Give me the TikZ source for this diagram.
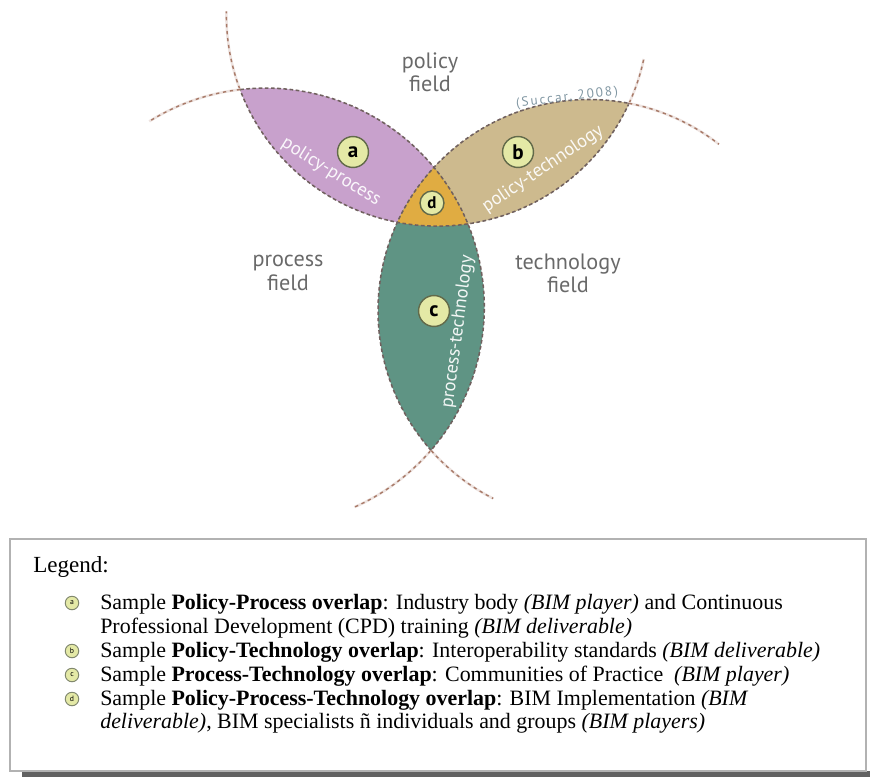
\documentclass[tikz,border=0pt]{standalone}
\usepackage{fontspec}
\setmainfont{PT Sans}
\newfontfamily\legfont{Liberation Serif}
\usetikzlibrary{positioning}
\definecolor{lilac}{RGB}{200,161,204}
\definecolor{sand}{RGB}{205,186,142}
\definecolor{sage}{RGB}{95,148,132}
\definecolor{amber}{RGB}{224,172,66}
\definecolor{edge}{RGB}{112,96,94}
\definecolor{rim}{RGB}{168,122,104}
\definecolor{pale}{RGB}{228,233,166}
\definecolor{ring}{RGB}{98,106,74}
\definecolor{inkgray}{RGB}{105,105,105}
\definecolor{cite}{RGB}{128,150,162}

\tikzset{
  lens/.style={draw=edge,line width=1.1pt,dash pattern=on 2.6pt off 1.8pt},
  rimarc/.style={draw=rim,line width=1pt,dash pattern=on 2.4pt off 2.6pt},
  glow/.style={draw=rim!20,line width=1.8pt},
  tag/.style={circle,fill=pale,draw=ring,line width=1pt,minimum size=22pt,inner sep=0pt,
    font=\fontsize{15}{15}\selectfont\bfseries},
  fieldlbl/.style={text=inkgray,align=center,font=\fontsize{15.8}{16.5}\selectfont},
  lenslbl/.style={text=white,text opacity=.92,font=\fontsize{13.2}{13.2}\selectfont},
  dot/.style={circle,fill=pale,draw=ring!80,line width=.7pt,minimum size=9.6pt,inner sep=0pt,
    font=\fontsize{5.5}{5.5}\selectfont},
  legtxt/.style={anchor=base west,inner sep=0pt,font=\legfont\fontsize{15.6}{17}\selectfont},
}

\begin{document}
\begin{tikzpicture}[x=.025cm,y=-.025cm]
  \useasboundingbox (0,0) rectangle (870,778);
  % the three fields
  \coordinate (pol) at (437.4,15.1);
  \coordinate (pro) at (265.3,307.1);
  \coordinate (tec) at (589,310.5);

  % soft shadow under the overlaps
  \foreach \s in {1,...,7} {
    \begin{scope}[shift={(\s*1.1,\s*1.5)}]
      \begin{scope}
        \clip (pol) circle[radius=211];
        \fill[black,opacity=.04] (pro) circle[radius=219] (tec) circle[radius=211];
      \end{scope}
      \begin{scope}
        \clip (pro) circle[radius=219];
        \fill[black,opacity=.04] (tec) circle[radius=211];
      \end{scope}
    \end{scope}}

  % overlaps
  \begin{scope}
    \clip (pol) circle[radius=211];
    \fill[lilac] (pro) circle[radius=219];
    \fill[sand] (tec) circle[radius=211];
  \end{scope}
  \begin{scope}
    \clip (pro) circle[radius=219];
    \fill[sage] (tec) circle[radius=211];
    \clip (pol) circle[radius=211];
    \fill[amber] (tec) circle[radius=211];
  \end{scope}

  % field borders
  \draw[lens] (pol) ++(24.6:211) arc[start angle=24.6,end angle=159.5,radius=211];
  \draw[lens] (pro) ++(-96.6:219) arc[start angle=-96.6,end angle=41,radius=219];
  \draw[lens] (tec) ++(138.4:211) arc[start angle=138.4,end angle=280.9,radius=211];
  \foreach \c/\r/\a/\b in {pol/211/159.5/181,pol/211/24.6/12,pro/219/-96.6/-122,
      pro/219/41/66,tec/211/280.9/308,tec/211/138.4/117} {
    \draw[glow] (\c) ++(\a:\r) arc[start angle=\a,end angle=\b,radius=\r];
    \draw[rimarc] (\c) ++(\a:\r) arc[start angle=\a,end angle=\b,radius=\r];
  }

  % labels
  \node[fieldlbl] (fpol) at (430,72) {policy\\field};
  \node[fieldlbl] (fpro) at (288,273) {process\\field};
  \node[fieldlbl] (ftec) at (568,273) {technology\\field};
  \node[text=cite,rotate=7,font=\fontsize{9.4}{10}\selectfont\addfontfeature{LetterSpace=15}]
    (src) at (567,98) {(Succar, 2008)};
  \node[lenslbl,rotate=-32] (lpp) at (331,172) {policy-process};
  \node[lenslbl,rotate=34] (lpt) at (543,169) {policy-technology};
  \node[lenslbl,rotate=82.5] (lct) at (458,332) {process-technology};
  \node[tag] (a) at (353,152) {a};
  \node[tag] (b) at (518,152) {b};
  \node[tag] (c) at (434,311) {c};
  \node[tag,minimum size=17pt,font=\fontsize{12}{12}\selectfont\bfseries] (d) at (432,203) {d};

  % legend
  \fill[black!62] (22,771) rectangle (870,777);
  \draw[black!30,line width=1.2pt,fill=white] (10,539) rectangle (866,771);
  \node[legtxt,font=\legfont\fontsize{16.4}{17}\selectfont] (leg) at (33,572) {Legend:};
  \foreach \l/\y in {a/603,b/651,c/675,d/699}
    \node[dot] (i\l) at (72,\y) {\l};
  \node[legtxt] (ta1) at (100,609) {Sample \textbf{Policy-Process overlap}: Industry body \textit{(BIM player)} and Continuous};
  \node[legtxt] (ta2) at (100,633) {Professional Development (CPD) training \textit{(BIM deliverable)}};
  \node[legtxt] (tb) at (100,657) {Sample \textbf{Policy-Technology overlap}: Interoperability standards \textit{(BIM deliverable)}};
  \node[legtxt] (tc) at (100,681) {Sample \textbf{Process-Technology overlap}: Communities of Practice\ \ \textit{(BIM player)}};
  \node[legtxt] (td1) at (100,705) {Sample \textbf{Policy-Process-Technology overlap}: BIM Implementation \textit{(BIM}};
  \node[legtxt] (td2) at (100,728) {\textit{deliverable)}, BIM specialists ñ individuals and groups \textit{(BIM players)}};
\end{tikzpicture}
\end{document}
